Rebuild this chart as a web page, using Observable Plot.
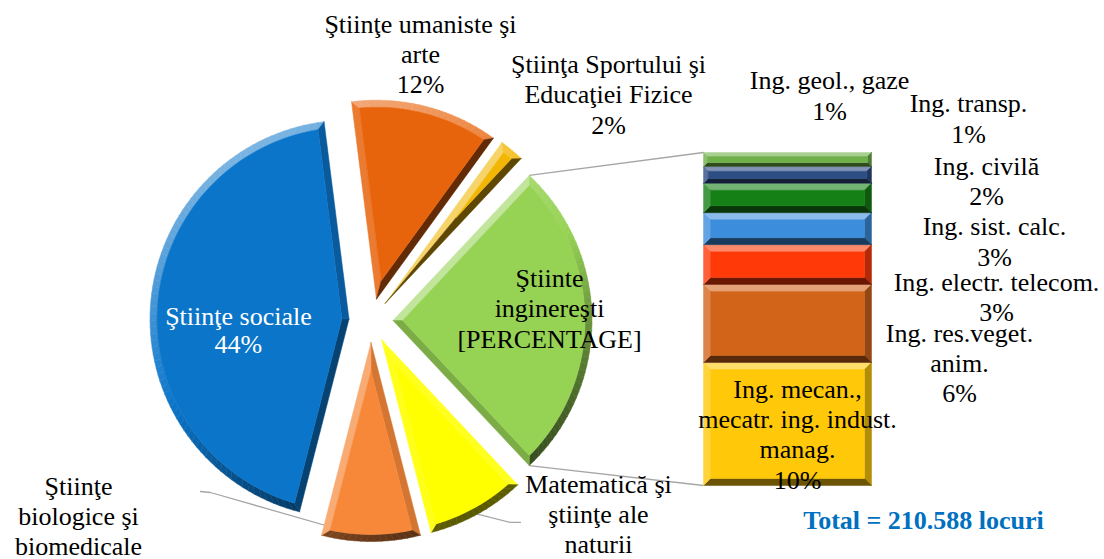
<!DOCTYPE html>
<html><head><meta charset="utf-8">
<script src="https://cdn.jsdelivr.net/npm/d3@7"></script>
<script src="https://cdn.jsdelivr.net/npm/@observablehq/plot@0.6"></script>
<style>
html,body{margin:0;padding:0;background:#fff;overflow:hidden;}
#chart{width:1104px;height:559px;}
#chart svg text{font-family:"Liberation Serif","Times New Roman",Times,"DejaVu Serif","Noto Serif",serif !important;}
</style></head><body><div id="chart"></div>
<script>
// ---------------- data ----------------
const pieNames = [
  "Ştiinţe sociale",
  "Ştiinţe umaniste şi\narte",
  "Ştiinţa Sportului şi\nEducaţiei Fizice",
  "Ştiinte\ninginereşti",
  "Matematică şi\nştiinţe ale\nnaturii",
  "Ştiinţe\nbiologice şi\nbiomedicale"
];
const pieValues = [44, 12, 2, 26, 8, 8];
const otherIndex = 3;                 // slice expanded into the bar
const otherValueText = "[PERCENTAGE]";
// bar (bottom -> top)
const barNames = [
  "Ing. mecan.,\nmecatr. ing. indust.\nmanag.",
  "Ing. res.veget.\nanim.",
  "Ing. electr. telecom.",
  "Ing. sist. calc.",
  "Ing. civilă",
  "Ing. transp.",
  "Ing. geol., gaze"
];
const barValues = [9.6, 6.1, 3.1, 2.5, 2.3, 1.3, 1.1];
const totalText = "Total = 210.588 locuri";

// ---------------- styles ----------------
const pieColors = ["#0b75c9", "#e8640c", "#f2b705", "#96d254", "#ffff00", "#f7883a"];
const barColors = ["#ffc808", "#d2641a", "#ff3a08", "#3c8ddc", "#158015", "#2d4d85", "#6fb04a"];
const pieLabelColors = ["#ffffff", "#000", "#000", "#000", "#000", "#000"];

// ---------------- layout ----------------
const W = 1104, H = 559;
const cx = 370.5, cy = 320, R = 199, explode = 22, bevel = 7;
const barX0 = 703, barX1 = 871, barTop = 152, barBottom = 485;
const pieLabelOffset = [[88, 46], [-5.5, -13], [96.6, -16.7], [-42.5, 27], [121, 69.3], [-292.5, 44]];
const barLabelOffset = [[-74, 64.5], [88, 79], [125, 56.9], [123, 36.8], [115, 7.5], [97, -32.4], [-42, -40]];
const totalOffset = [136, 43];

// ---------------- geometry ----------------
const deg = Math.PI / 180;
const dir = a => [Math.sin(a * deg), -Math.cos(a * deg)];
const L = (() => { const v = [-0.45, -0.89]; const n = Math.hypot(...v); return [v[0] / n, v[1] / n]; })();
const shade = (c, nrm) => {
  const d = nrm[0] * L[0] + nrm[1] * L[1];
  return d >= 0 ? d3.interpolateRgb(c, "#ffffff")(d * 0.45) : d3.interpolateRgb(c, "#000000")(-d * 0.65);
};

const baseRows = [], quadRows = [], innerRows = [];
let pid = 0;
function poly(rows, pts, fill) {
  const id = pid++;
  for (const p of pts) rows.push({id, x: p[0], y: p[1], fill});
  rows.push({id, x: pts[0][0], y: pts[0][1], fill});
}

const pieTotal = d3.sum(pieValues);
const startAngle = 90 - (d3.sum(pieValues.slice(0, otherIndex)) + pieValues[otherIndex] / 2) / pieTotal * 360;
const slices = [];
let acc = startAngle;
pieValues.forEach((v, i) => {
  const a0 = acc, a1 = acc + v / pieTotal * 360; acc = a1;
  const mid = (a0 + a1) / 2, dm = dir(mid);
  const apex = [cx + explode * dm[0], cy + explode * dm[1]];
  const at = (a, r) => { const d = dir(a); return [apex[0] + r * d[0], apex[1] + r * d[1]]; };
  const N = Math.max(4, Math.ceil((a1 - a0) / 2));
  const P = d3.range(N + 1).map(j => at(a0 + j * (a1 - a0) / N, R));
  const half = (a1 - a0) / 2;
  const apexIn = at(mid, bevel / Math.sin(half * deg));
  const Ri = R - bevel, dl = Math.asin(bevel / Ri) / deg;
  const Q = d3.range(N + 1).map(j => at(a0 + dl + j * (a1 - a0 - 2 * dl) / N, Ri));
  const c = pieColors[i];
  poly(baseRows, [apex, ...P], d3.interpolateRgb(c, "#000")(0.3));
  poly(quadRows, [apex, P[0], Q[0], apexIn], shade(c, dir(a0 - 90)));
  for (let j = 0; j < N; j++) poly(quadRows, [P[j], P[j + 1], Q[j + 1], Q[j]], shade(c, dir(a0 + (j + 0.5) * (a1 - a0) / N)));
  poly(quadRows, [P[N], apex, apexIn, Q[N]], shade(c, dir(a1 + 90)));
  poly(innerRows, [apexIn, ...Q], c);
  slices.push({a0, a1, mid, apex, at, top: P[0], bottom: P[N], arcMid: at(mid, R)});
});

// bar of the "other" slice
const barTotal = d3.sum(barValues);
const yBar = d3.scaleLinear([0, barTotal], [barBottom, barTop]);
const segs = [];
let cum = 0;
barValues.forEach((v, i) => {
  const y0 = yBar(cum), y1 = yBar(cum + v); cum += v;
  const b = Math.min(7, (y0 - y1) * 0.28);
  const c = barColors[i];
  const x0 = barX0, x1 = barX1;
  poly(baseRows, [[x0, y1], [x1, y1], [x1, y0], [x0, y0]], d3.interpolateRgb(c, "#000")(0.3));
  poly(quadRows, [[x0, y1], [x1, y1], [x1 - b, y1 + b], [x0 + b, y1 + b]], shade(c, [0, -1]));
  poly(quadRows, [[x1, y1], [x1, y0], [x1 - b, y0 - b], [x1 - b, y1 + b]], shade(c, [1, 0]));
  poly(quadRows, [[x1, y0], [x0, y0], [x0 + b, y0 - b], [x1 - b, y0 - b]], shade(c, [0, 1]));
  poly(quadRows, [[x0, y0], [x0, y1], [x0 + b, y1 + b], [x0 + b, y0 - b]], shade(c, [-1, 0]));
  poly(innerRows, [[x0 + b, y1 + b], [x1 - b, y1 + b], [x1 - b, y0 - b], [x0 + b, y0 - b]], c);
  segs.push({y0, y1, mid: (y0 + y1) / 2});
});

// connectors pie -> bar
const other = slices[otherIndex];
const links = [
  {x1: other.top[0], y1: other.top[1], x2: barX0, y2: yBar(barTotal)},
  {x1: other.bottom[0], y1: other.bottom[1], x2: barX0, y2: yBar(0)}
];

// labels
const pct = v => Math.round(v / pieTotal * 100) + "%";
const pieLabels = pieNames.map((n, i) => {
  const s = slices[i];
  return {
    x: s.arcMid[0] + pieLabelOffset[i][0],
    y: s.arcMid[1] + pieLabelOffset[i][1],
    text: n + "\n" + (i === otherIndex ? otherValueText : pct(pieValues[i])),
    fill: pieLabelColors[i], i
  };
});
const barLabels = barNames.map((n, i) => ({
  x: barX1 + barLabelOffset[i][0],
  y: segs[i].mid + barLabelOffset[i][1],
  text: n + "\n" + pct(barValues[i])
}));
const totalLabel = [{x: (barX0 + barX1) / 2 + totalOffset[0], y: barBottom + totalOffset[1], text: totalText}];

// leader lines
const bioI = 5, matI = 4;
const leaderRows = [];
{
  const lb = pieLabels[bioI], s = slices[bioI], e = s.at(s.mid, R - 3);
  [[lb.x + 122, lb.y - 94], [lb.x + 132, lb.y - 93], e].forEach(p => leaderRows.push({id: "bio", x: p[0], y: p[1]}));
  const lm = pieLabels[matI], sm = slices[matI];
  [sm.arcMid, [lm.x - 88, lm.y - 61], [lm.x - 78, lm.y - 61]].forEach(p => leaderRows.push({id: "mat", x: p[0], y: p[1]}));
}

const font = "Liberation Serif, Times New Roman, DejaVu Serif, serif";
const svg = Plot.plot({
  width: W, height: H,
  margin: 0,
  x: {domain: [0, W], range: [0, W], axis: null},
  y: {domain: [0, H], range: [0, H], axis: null},
  color: {type: "identity"},
  marks: [
    Plot.link(links, {x1: "x1", y1: "y1", x2: "x2", y2: "y2", stroke: "#a6a6a6", strokeWidth: 1.3}),
    Plot.line(leaderRows, {x: "x", y: "y", z: "id", stroke: "#a6a6a6", strokeWidth: 1.3}),
    Plot.line(baseRows, {x: "x", y: "y", z: "id", fill: "fill", stroke: "none", ariaLabel: "base"}),
    Plot.line(quadRows, {x: "x", y: "y", z: "id", fill: "fill", stroke: "fill", strokeWidth: 0.5}),
    Plot.line(innerRows, {x: "x", y: "y", z: "id", fill: "fill", stroke: "fill", strokeWidth: 0.5}),
    Plot.text(pieLabels.filter(d => d.i !== 0), {x: "x", y: "y", text: "text", fill: "#000", fontSize: 26, fontFamily: font, lineAnchor: "bottom", lineHeight: 1.16, textAnchor: "middle"}),
    Plot.text(pieLabels.filter(d => d.i === 0), {x: "x", y: "y", text: "text", fill: "#ffffff", fontSize: 26, fontFamily: font, lineAnchor: "bottom", lineHeight: 1.08, textAnchor: "middle"}),
    Plot.text(barLabels, {x: "x", y: "y", text: "text", fill: "#000", fontSize: 26, fontFamily: font, lineAnchor: "bottom", lineHeight: 1.16, textAnchor: "middle"}),
    Plot.text(totalLabel, {x: "x", y: "y", text: "text", fill: "#0070c0", fontWeight: "bold", fontSize: 26, fontFamily: font, lineAnchor: "bottom", textAnchor: "middle"})
  ]
});
const sel = d3.select(svg);
const defs = sel.insert("defs", ":first-child");
const f = defs.append("filter").attr("id", "sh").attr("x", "-20%").attr("y", "-20%").attr("width", "140%").attr("height", "140%");
f.append("feDropShadow").attr("dx", 2).attr("dy", 3).attr("stdDeviation", 3).attr("flood-color", "#000").attr("flood-opacity", 0.3);
sel.select('g[aria-label="base"]').attr("filter", "url(#sh)");
document.getElementById("chart").appendChild(svg);
</script>
</body></html>
